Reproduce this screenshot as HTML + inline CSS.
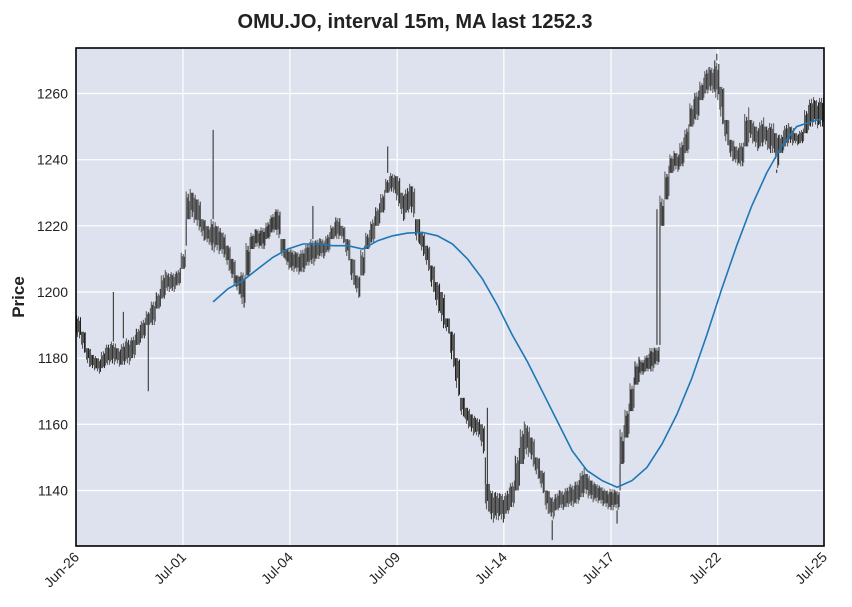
<!DOCTYPE html>
<html><head><meta charset="utf-8"><style>
body{margin:0;background:#fff;}
svg{display:block;font-family:"Liberation Sans",Arial,sans-serif;}
</style></head><body>
<svg id="chart" width="852" height="607">
<text x="415" y="28" text-anchor="middle" font-size="20" font-weight="bold" fill="#222">OMU.JO, interval 15m, MA last 1252.3</text>
<rect x="76" y="48" width="748" height="498" fill="#dde2ee"/>
<g id="grid"></g>
<g id="candles"></g>
<path id="ma" fill="none" stroke="#1f77b4" stroke-width="1.6"/>
<rect x="76" y="48" width="748" height="498" fill="none" stroke="#000" stroke-width="1.6"/>
<g id="yticks"></g>
<g id="xticks"></g>
<text transform="translate(24,297) rotate(-90)" text-anchor="middle" font-size="17" font-weight="bold" fill="#222">Price</text>
</svg>
<script>
const highs=[1193,1188,1183,1181,1180,1184,1185,1185,1183,1186,1186,1188,1191,1193,1196,1198,1202,1208,1206,1206,
1208,1214,1234,1230,1228,1222,1220,1222,1220,1218,1214,1210,1205,1206,1219,1220,1219,1220,1223,1225,
1225,1216,1213,1213,1212,1214,1216,1216,1217,1216,1219,1222,1223,1220,1216,1210,1205,1216,1220,1224,
1228,1232,1236,1236,1235,1230,1234,1232,1222,1218,1214,1208,1203,1200,1192,1188,1180,1168,1165,1163,
1162,1160,1142,1140,1140,1139,1142,1144,1155,1163,1160,1156,1150,1146,1140,1138,1141,1140,1142,1142,
1144,1148,1145,1143,1142,1141,1140,1141,1140,1163,1168,1176,1182,1180,1182,1184,1184,1233,1240,1244,
1242,1248,1252,1260,1262,1266,1269,1268,1270,1262,1252,1246,1244,1246,1258,1252,1250,1254,1250,1252,
1248,1250,1252,1250,1248,1250,1258,1260,1258,1260];
const lows=[1186,1180,1176,1176,1175,1177,1178,1178,1177,1178,1178,1180,1184,1186,1190,1190,1195,1198,1200,1200,
1202,1207,1222,1220,1218,1214,1214,1212,1211,1210,1205,1201,1198,1195,1205,1213,1213,1213,1216,1218,
1216,1208,1206,1206,1205,1206,1208,1208,1210,1210,1212,1216,1216,1214,1208,1200,1197,1205,1213,1215,
1220,1224,1230,1230,1225,1220,1224,1222,1212,1210,1205,1198,1192,1188,1186,1175,1166,1160,1158,1156,
1156,1150,1130,1130,1131,1130,1133,1135,1140,1148,1150,1146,1142,1138,1131,1131,1134,1134,1135,1135,
1136,1138,1137,1136,1136,1135,1134,1134,1134,1148,1156,1164,1172,1175,1176,1176,1178,1220,1228,1236,
1236,1238,1242,1250,1252,1258,1260,1260,1258,1248,1242,1238,1238,1238,1244,1244,1242,1244,1242,1242,
1236,1242,1244,1244,1244,1245,1248,1250,1249,1250];
const spikeIdx=[7,9,14,27,47,62,82,95,108,116,128,140];
const spikeVal=[1200,1194,1170,1249,1226,1244,1165,1125,1130,1225,1272,1237];
const maValues=[1197,1201,1203.5,1207,1210.5,1213,1214.5,1214.5,1214,1214,1213,1215.5,1217,1217.8,1218,1217,1214.5,1210,1204,1196,
1187,1179,1170,1161,1152,1146,1143,1141,1143,1147,1154,1163,1174,1187,1201,1214,1226,1236,1244,1250,1251.5];
const maLast=1252.3;
const yTicks=[1140,1160,1180,1200,1220,1240,1260];
const xTickLabels=["Jun-26","Jul-01","Jul-04","Jul-09","Jul-14","Jul-17","Jul-22","Jul-25"];
const xTickIdx=[0,21.45,42.9,64.4,85.8,107.3,128.7,150];

const L=76,R=824,T=48,B=546,N=150,maStart=27,maStep=3;
const xs=i=>L+i*(R-L)/N;
const ys=v=>292-(v-1200)*(491-94)/120;
const NS="http://www.w3.org/2000/svg";
function mk(tag,attrs,parent){const e=document.createElementNS(NS,tag);for(const k in attrs)e.setAttribute(k,attrs[k]);parent.appendChild(e);return e;}
const grid=document.getElementById('grid'),yt=document.getElementById('yticks'),xt=document.getElementById('xticks'),cg=document.getElementById('candles');
yTicks.forEach(v=>{
  const l=mk('line',{x1:L,x2:R,y1:ys(v),y2:ys(v),stroke:'#fff','stroke-width':1.2},grid);
  
  
  const t=mk('text',{x:L-8,y:ys(v)+5,'text-anchor':'end','font-size':14,fill:'#222'},yt);
  t.textContent=v;
  
  
});
xTickIdx.forEach((p,k)=>{
  const x=xs(p);
  const l=mk('line',{x1:x,x2:x,y1:T,y2:B,stroke:'#fff','stroke-width':1.2},grid);
  
  
  const t=mk('text',{x:x+4,y:B+12,'text-anchor':'end','font-size':14,fill:'#222',transform:`rotate(-45 ${x+4} ${B+12})`},xt);
  t.textContent=xTickLabels[k];
  
  
});
const pat=[[0,0.35],[0.25,0.1],[0.1,0.45],[0.4,0],[0.15,0.25]];
highs.forEach((h,i)=>{
  const lo=lows[i];
  const rng=h-lo;
  const prev=i>0?(highs[i-1]+lows[i-1])/2:(h+lo)/2;
  const nxt=(h+lo)/2;
  const x=xs(i);
  if(i>0){
    let a=null,b=null;
    if(lo>highs[i-1]){a=highs[i-1];b=lo;}
    else if(h<lows[i-1]){a=h;b=lows[i-1];}
    if(a!==null){
      const g=mk('line',{x1:x+0.5,x2:x+0.5,y1:ys(a),y2:ys(b),stroke:'#444','stroke-width':1.2},cg);
      
      
    }
  }
  for(let k=0;k<5;k++){
    let c=prev+(nxt-prev)*(k+0.5)/5;
    c=Math.min(h-rng*0.2,Math.max(lo+rng*0.2,c));
    const top=Math.min(h,c+rng*(0.5-pat[k][0]*0.6));
    const bot=Math.max(lo,c-rng*(0.5-pat[k][1]*0.6));
    const ln=mk('rect',{x:x+k,y:ys(top),width:1,height:Math.max(1,ys(bot)-ys(top)),fill:(i+k)%4===0?'#1e1e1e':'#555'},cg);
    
    
  }
});
spikeIdx.forEach((i,k)=>{
  const v=spikeVal[k];
  const ref=v>highs[i]?highs[i]:lows[i];
  const x=xs(i)+2.5;
  const w=mk('line',{x1:x,x2:x,y1:ys(v),y2:ys(ref),stroke:'#444','stroke-width':1.2},cg);
  
  
});
let d='';
maValues.forEach((v,k)=>{const i=maStart+maStep*k;d+=(k?'L':'M')+(xs(i)+2.5).toFixed(1)+','+ys(v).toFixed(1);});
d+='L'+(xs(N-1)+2.5).toFixed(1)+','+ys(maLast).toFixed(1);
document.getElementById('ma').setAttribute('d',d);
</script>
</body></html>
